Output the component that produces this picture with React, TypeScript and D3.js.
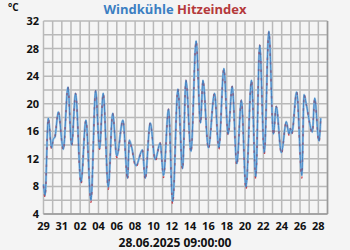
import React from "react";
import * as d3 from "d3";

const W = 350;
const H = 250;

const startDate = new Date(2025, 4, 29, 0, 0, 0);
const endDate = new Date(2025, 5, 29, 0, 0, 0);

// time in days since 29.05.2025 00:00
const dayOffsets = [
  0.0, 0.17, 0.52, 0.89, 1.05, 1.25, 1.62, 2.16, 2.67, 3.07, 3.5, 4.09, 4.63, 5.18, 5.69,
  6.12, 6.52, 7.07, 7.55, 8.0, 8.67, 9.18, 9.36, 9.6, 10.09, 10.8, 11.1, 11.65, 12.2,
  12.74, 13.1, 13.65, 14.1, 14.67, 15.18, 15.55, 16.1, 16.66, 17.14, 17.4, 18.0, 18.67,
  19.14, 19.69, 20.15, 20.6, 21.1, 21.6, 22.1, 22.7, 23.17, 23.6, 24.1, 24.6, 25.1, 25.4,
  25.97, 26.5, 26.8, 26.95, 27.1, 27.64, 28.2, 28.44, 28.7, 29.35, 29.6, 30.07, 30.26,
];

const windkuehle = [
  8.3, 6.7, 17.9, 13.6, 14.8, 15.2, 18.8, 13.4, 22.4, 14.0, 21.5, 8.6, 17.6, 6.0, 21.9,
  13.5, 21.5, 7.9, 18.6, 12.4, 17.6, 9.2, 14.7, 13.8, 11.0, 13.3, 9.2, 17.2, 11.9,
  14.3, 9.6, 19.2, 5.8, 22.1, 10.6, 23.4, 13.1, 29.1, 17.2, 23.4, 13.6, 21.5,
  13.6, 25.1, 15.6, 22.5, 11.3, 20.5, 7.9, 23.4, 9.4, 28.5, 12.9, 30.5, 15.6, 19.6,
  12.9, 17.4, 15.6, 16.4, 15.7, 21.7, 9.6, 21.3, 19.8, 15.9, 20.8, 14.6, 17.9,
];

const hitzeindex = [
  8.1, 6.4, 17.9, 13.4, 14.8, 15.2, 18.8, 13.2, 22.4, 13.9, 21.5, 8.3, 17.6, 5.7, 21.9,
  13.4, 21.5, 7.6, 18.6, 12.2, 17.6, 8.9, 14.7, 13.7, 10.8, 13.3, 8.9, 17.2, 11.7,
  14.3, 9.3, 19.2, 5.4, 22.1, 10.4, 23.4, 12.9, 29.1, 17.1, 23.4, 13.4, 21.5,
  13.4, 25.1, 15.4, 22.5, 11.0, 20.5, 7.5, 23.4, 9.1, 28.5, 12.7, 30.5, 15.4, 19.6,
  12.7, 17.4, 15.4, 16.4, 15.5, 21.7, 9.2, 21.3, 19.8, 15.8, 20.8, 14.4, 17.9,
];

const yTicks = [4, 8, 12, 16, 20, 24, 28, 32];
const titleParts = ["Windkühle", "Hitzeindex"];
const unitLabel = "°C";
const timestampLabel = "28.06.2025 09:00:00";

export default function App() {
  const left = 43.5;
  const right = 327.5;
  const top = 21;
  const bottom = 214;

  const x = d3.scaleTime().domain([startDate, endDate]).range([left, right]);
  const y = d3.scaleLinear().domain([4, 32]).range([bottom, top]);

  const toDate = (d: number) => new Date(startDate.getTime() + d * 86400000);

  const days = d3.timeDay.range(startDate, d3.timeDay.offset(endDate, 1));
  const labelDays = days.filter((_, i) => i % 2 === 0 && i <= 30);
  const yGrid = d3.range(4, 33, 2);

  const line = (vals: number[]) =>
    d3
      .line<number>()
      .x((_, i) => x(toDate(dayOffsets[i])))
      .y((v) => y(v))
      .curve(d3.curveMonotoneX)(vals) || "";

  const fmt = d3.timeFormat("%d");
  const font = "'Open Sans', 'Noto Sans', sans-serif";

  return (
    <svg
      width={W}
      height={H}
      style={{ position: "absolute", left: 0, top: 0, display: "block" }}
      fontFamily={font}
    >
      <rect x={0} y={0} width={W} height={H} fill="#f4f4f4" />
      <rect x={left} y={top} width={right - left} height={bottom - top} fill="#f5f5f5" />
      {days.map((d, i) => (
        <line
          key={"vx" + i}
          x1={x(d)}
          x2={x(d)}
          y1={top}
          y2={bottom}
          stroke="#b9b9b9"
          strokeWidth={1.5}
        />
      ))}
      {yGrid.map((v) => (
        <line
          key={"hy" + v}
          x1={left}
          x2={right}
          y1={y(v)}
          y2={y(v)}
          stroke="#b9b9b9"
          strokeWidth={1.5}
        />
      ))}
      <line x1={right} x2={right} y1={top} y2={bottom} stroke="#9a9a9a" strokeWidth={1.5} />
      <line x1={left} x2={right} y1={bottom} y2={bottom} stroke="#9a9a9a" strokeWidth={1.5} />

      <path d={line(windkuehle)} fill="none" stroke="#95bfe2" strokeWidth={2.3} strokeLinejoin="round" />
      <path
        d={line(hitzeindex)}
        fill="none"
        stroke="#c8404a"
        strokeWidth={1.4}
        strokeDasharray="2.5 6"
      />
      <path d={line(windkuehle)} fill="none" stroke="#3b7fc2" strokeWidth={0.9} strokeLinejoin="round" />

      {yTicks.map((v) => (
        <text
          key={"yt" + v}
          x={39}
          y={y(v)}
          dy="0.36em"
          textAnchor="end"
          fontSize={11}
          fontWeight="bold"
          fill="#111"
        >
          {v}
        </text>
      ))}
      {labelDays.map((d, i) => (
        <text
          key={"xt" + i}
          x={x(d)}
          y={230}
          textAnchor="middle"
          fontSize={11}
          fontWeight="bold"
          fill="#111"
        >
          {fmt(d)}
        </text>
      ))}
      <text x={8} y={11} fontSize={10} fontWeight="bold" fill="#111">
        {unitLabel}
      </text>
      <text x={175} y={14} textAnchor="middle" fontSize={13} fontWeight="bold">
        <tspan fill="#3b7fc2">{titleParts[0]}</tspan>
        <tspan fill="#b5393b">{" " + titleParts[1]}</tspan>
      </text>
      <text x={175} y={247} textAnchor="middle" fontSize={12} fontWeight="bold" fill="#111">
        {timestampLabel}
      </text>
    </svg>
  );
}
